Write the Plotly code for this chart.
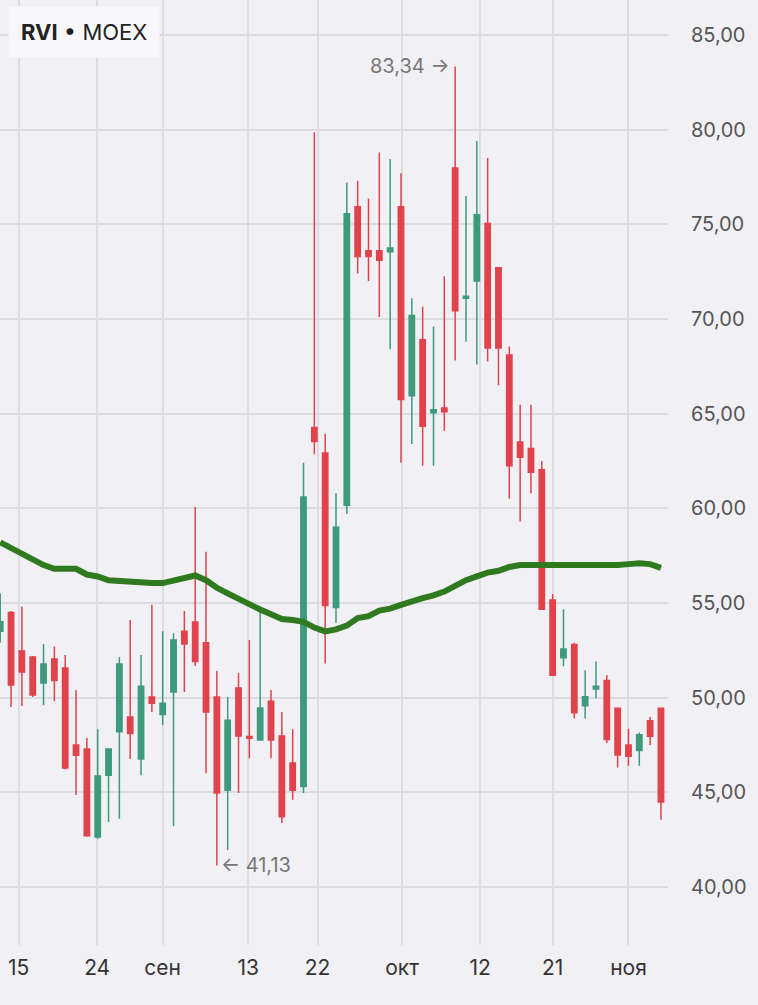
import plotly.graph_objects as go

### data: daily RVI candles (index = trading day)
opens = [53.5, 54.5, 52.46, 52.14, 50.77, 52.04, 51.56, 47.5, 47.28, 42.63,
         45.9, 48.2, 48.97, 46.75, 50.03, 49.1, 50.3, 53.5, 53.99, 52.9,
         50.03, 45.1, 50.5, 47.95, 47.76, 49.8, 47.97, 46.54, 45.3, 64.27,
         62.92, 54.76, 60.16, 75.93, 73.6, 73.6, 73.55, 75.93, 65.95, 68.9,
         65.04, 65.3, 77.98, 71.1, 72.0, 75.04, 72.7, 68.1, 63.5, 63.16,
         62.04, 55.15, 52.1, 52.8, 49.57, 50.45, 50.9, 49.44, 47.5, 47.2,
         48.77, 49.44]
highs = [55.5, 54.57, 54.8, 52.2, 52.83, 52.7, 52.25, 50.4, 47.86, 48.33,
         47.3, 52.14, 54.1, 52.25, 54.9, 53.5, 53.4, 54.57, 60.07, 57.7,
         51.4, 50.03, 51.3, 53.04, 54.73, 50.4, 49.24, 48.33, 62.4, 79.86,
         63.93, 60.8, 77.2, 77.3, 76.37, 78.8, 78.45, 77.7, 71.1, 70.65,
         69.6, 72.26, 83.34, 76.5, 79.4, 78.5, 72.7, 68.55, 65.47, 65.47,
         62.5, 55.47, 54.66, 52.9, 51.45, 51.9, 51.18, 49.44, 48.36, 48.15,
         48.98, 49.44]
lows = [52.9, 49.5, 49.55, 50.03, 49.6, 49.8, 46.2, 44.85, 42.65, 42.53,
        43.43, 43.6, 46.75, 45.9, 49.24, 48.55, 43.2, 50.3, 51.67, 46.0,
        41.13, 41.95, 44.96, 46.8, 47.76, 46.8, 43.37, 44.6, 44.96, 62.86,
        51.8, 53.95, 59.7, 72.4, 72.0, 70.1, 68.4, 62.4, 63.4, 62.25,
        62.25, 64.1, 67.8, 68.8, 67.6, 67.75, 66.5, 60.5, 59.3, 60.8,
        54.66, 51.18, 51.66, 48.9, 48.9, 49.97, 47.6, 46.3, 46.4, 46.4,
        47.5, 43.54]
closes = [54.0, 50.66, 51.35, 50.13, 51.77, 50.9, 46.28, 46.96, 42.7, 45.86,
          47.28, 51.77, 48.1, 50.6, 49.7, 49.7, 53.04, 52.83, 51.9, 49.24,
          44.96, 48.8, 47.97, 47.85, 49.45, 47.76, 43.7, 45.1, 60.6, 63.53,
          54.86, 59.0, 75.56, 73.3, 73.3, 73.1, 73.75, 65.75, 70.18, 64.33,
          65.2, 65.1, 70.44, 71.2, 75.5, 68.47, 68.47, 62.25, 62.7, 61.9,
          54.66, 51.18, 52.57, 49.2, 50.05, 50.6, 47.78, 46.97, 46.9, 48.04,
          47.96, 44.48]
ma = [58.2, 57.9, 57.6, 57.3, 57.0, 56.8, 56.8, 56.8, 56.5, 56.4,
      56.2, 56.15, 56.1, 56.1, 56.05, 56.05, 56.2, 56.35, 56.45, 56.2,
      55.8, 55.5, 55.2, 54.9, 54.65, 54.4, 54.15, 54.1, 54.0, 53.7,
      53.5, 53.6, 53.8, 54.2, 54.3, 54.6, 54.7, 54.9, 55.1, 55.25,
      55.4, 55.6, 55.9, 56.2, 56.4, 56.6, 56.7, 56.9, 57.0, 57.0,
      57.0, 57.0, 57.0, 56.95, 56.95, 56.95, 57.0, 57.0, 57.05, 57.1,
      57.05, 56.85]
tick_pos = [1.7, 8.95, 15.0, 22.9, 29.3, 37.1, 44.3, 51.0, 58.0]
tick_text = ['15', '24', 'сен', '13', '22', 'окт', '12', '21', 'ноя']

x = list(range(len(opens)))
red = '#e0434b'
green = '#3d9a7a'

fig = go.Figure()
fig.add_trace(go.Candlestick(x=x, open=opens, high=highs, low=lows, close=closes,
                             increasing=dict(line=dict(color=green, width=1.5), fillcolor=green),
                             decreasing=dict(line=dict(color=red, width=1.5), fillcolor=red),
                             whiskerwidth=0, showlegend=False))
fig.add_trace(go.Scatter(x=x, y=ma, mode='lines', line=dict(color='#2f7a1e', width=6),
                         showlegend=False))

hi_i = highs.index(max(highs))
lo_i = lows.index(min(lows))
fig.add_annotation(x=hi_i, y=highs[hi_i], text='83,34 →', showarrow=False, xanchor='right',
                   xshift=-4, font=dict(size=20, color='#777'))
fig.add_annotation(x=lo_i, y=lows[lo_i], text='← 41,13', showarrow=False, xanchor='left',
                   xshift=2, font=dict(size=20, color='#777'))
fig.add_annotation(x=0, y=1, xref='paper', yref='paper', xanchor='left', yanchor='top',
                   text='<b>RVI</b> • MOEX', showarrow=False, bgcolor='#f8f8fa',
                   borderpad=12, xshift=8, yshift=-6, font=dict(size=22, color='#222'))

fig.update_layout(
    width=758, height=1005,
    margin=dict(l=0, r=90, t=0, b=60),
    paper_bgcolor='#f1f0f5', plot_bgcolor='#f1f0f5',
    separators=', ',
    font=dict(family='Inter, Roboto, sans-serif'),
    xaxis=dict(range=[-0.02, 61.65], rangeslider=dict(visible=False), tickvals=tick_pos,
               ticktext=tick_text, showgrid=True, gridcolor='#dddce3', gridwidth=1.5,
               zeroline=False, tickfont=dict(size=21, color='#333'), ticks='', ticklen=0,
               ticklabelstandoff=8),
    yaxis=dict(range=[36.93, 86.85], side='right', dtick=5, tick0=40, tickformat='.2f',
               showgrid=True, gridcolor='#dddce3', gridwidth=1.5, zeroline=False,
               tickfont=dict(size=20, color='#555'), ticklabelstandoff=22),
)
fig.write_html('out.html', config={'displayModeBar': False},
               post_script="document.body.style.margin='0';document.body.style.background='#f1f0f5';")
